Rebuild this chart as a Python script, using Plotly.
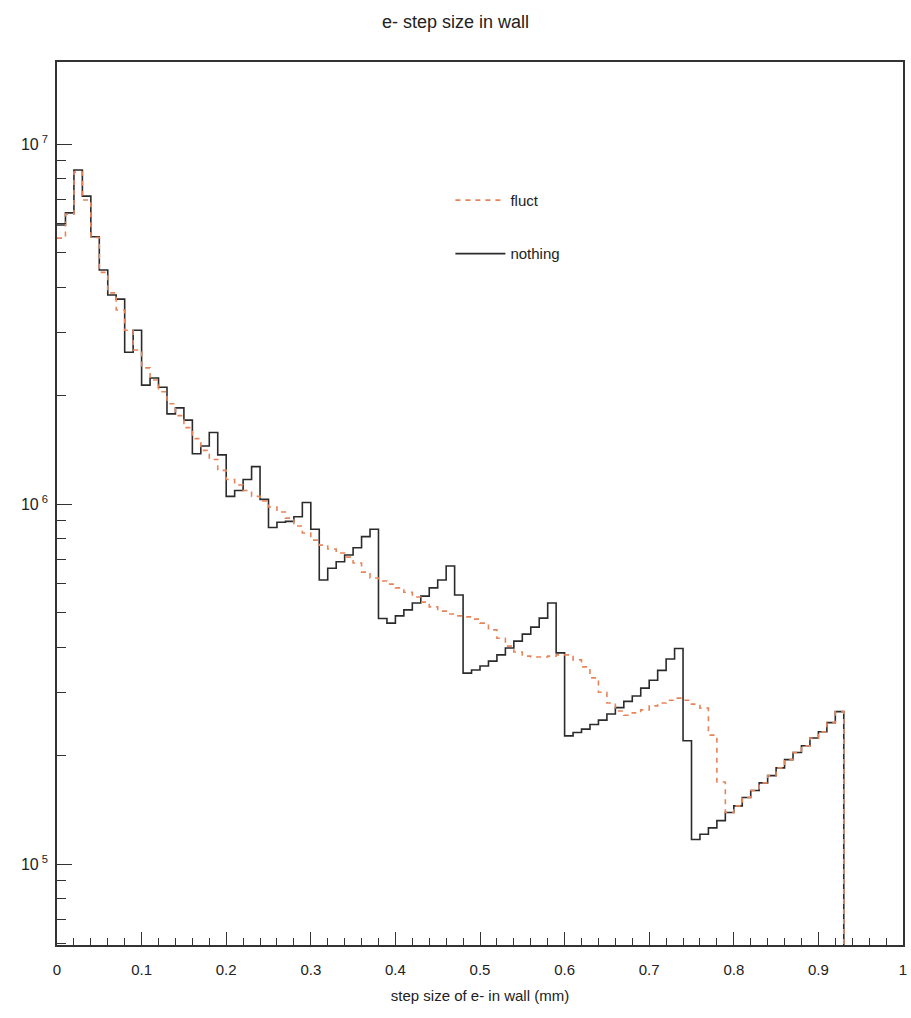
import numpy as np
import plotly.graph_objects as go

# ---- data (bin width 0.01 mm, bins 0.00 .. 0.93; beyond 0.93 empty) ----
bin_width = 0.01
n_bins = 93

nothing = [
    5.96e6, 6.44e6, 8.47e6, 7.17e6, 5.53e6, 4.47e6, 3.81e6, 3.71e6, 2.64e6, 3.04e6,
    2.14e6, 2.24e6, 2.11e6, 1.78e6, 1.85e6, 1.71e6, 1.38e6, 1.45e6, 1.58e6, 1.37e6,
    1.05e6, 1.09e6, 1.17e6, 1.27e6, 1.03e6, 8.61e5, 8.90e5, 8.95e5, 9.22e5, 1.01e6,
    8.51e5, 6.15e5, 6.63e5, 6.91e5, 7.22e5, 7.56e5, 8.12e5, 8.51e5, 4.81e5, 4.67e5,
    4.89e5, 5.08e5, 5.31e5, 5.55e5, 5.85e5, 6.15e5, 6.73e5, 5.59e5, 3.39e5, 3.46e5,
    3.55e5, 3.66e5, 3.81e5, 3.98e5, 4.16e5, 4.35e5, 4.55e5, 4.82e5, 5.31e5, 3.86e5,
    2.27e5, 2.32e5, 2.37e5, 2.44e5, 2.51e5, 2.61e5, 2.72e5, 2.83e5, 2.93e5, 3.08e5,
    3.24e5, 3.45e5, 3.71e5, 3.97e5, 2.20e5, 1.17e5, 1.21e5, 1.26e5, 1.32e5, 1.39e5,
    1.45e5, 1.53e5, 1.60e5, 1.68e5, 1.76e5, 1.85e5, 1.95e5, 2.04e5, 2.13e5, 2.24e5,
    2.33e5, 2.47e5, 2.65e5,
]

fluct = [
    5.48e6, 6.39e6, 8.36e6, 6.99e6, 5.50e6, 4.40e6, 3.86e6, 3.46e6, 3.04e6, 2.68e6,
    2.39e6, 2.21e6, 2.05e6, 1.90e6, 1.76e6, 1.63e6, 1.52e6, 1.41e6, 1.33e6, 1.24e6,
    1.17e6, 1.13e6, 1.09e6, 1.05e6, 1.02e6, 9.81e5, 9.50e5, 9.14e5, 8.69e5, 8.31e5,
    7.94e5, 7.69e5, 7.50e5, 7.31e5, 7.12e5, 6.86e5, 6.47e5, 6.23e5, 6.11e5, 5.99e5,
    5.85e5, 5.69e5, 5.52e5, 5.34e5, 5.18e5, 5.04e5, 4.95e5, 4.89e5, 4.86e5, 4.79e5,
    4.67e5, 4.47e5, 4.24e5, 4.03e5, 3.88e5, 3.78e5, 3.76e5, 3.76e5, 3.78e5, 3.81e5,
    3.81e5, 3.69e5, 3.53e5, 3.29e5, 3.00e5, 2.80e5, 2.66e5, 2.59e5, 2.63e5, 2.68e5,
    2.75e5, 2.80e5, 2.85e5, 2.89e5, 2.85e5, 2.78e5, 2.71e5, 2.28e5, 1.69e5, 1.39e5,
    1.45e5, 1.53e5, 1.60e5, 1.68e5, 1.76e5, 1.85e5, 1.95e5, 2.04e5, 2.13e5, 2.24e5,
    2.33e5, 2.47e5, 2.65e5,
]

x_ticks = [0, 0.1, 0.2, 0.3, 0.4, 0.5, 0.6, 0.7, 0.8, 0.9, 1]
x_ticktext = ["0", "0.1", "0.2", "0.3", "0.4", "0.5", "0.6", "0.7", "0.8", "0.9", "1"]
y_ticks = [1e5, 1e6, 1e7]
y_ticktext = ["10<sup> 5</sup>", "10<sup> 6</sup>", "10<sup> 7</sup>"]

# ---- step-line construction (left bin edges + closing edge dropping to empty) ----
edges = np.round(np.arange(n_bins + 1) * bin_width, 4)
EMPTY = 1.0  # empty bins lie below the visible log range


def step_xy(vals):
    xs = list(edges)
    ys = list(vals) + [EMPTY]
    return xs, ys


FONT = "Liberation Sans, Arial, Helvetica, sans-serif"

fig = go.Figure()
xs, ys = step_xy(nothing)
fig.add_trace(go.Scatter(
    x=xs, y=ys, mode="lines", line_shape="hv", name="nothing",
    line=dict(color="#2b2b2b", width=1.6), legendgroup="b", legendrank=2,
))
xs, ys = step_xy(fluct)
fig.add_trace(go.Scatter(
    x=xs, y=ys, mode="lines", line_shape="hv", name="fluct",
    line=dict(color="#e8845a", width=1.6, dash="5px,5px"), legendgroup="a", legendrank=1,
))

fig.update_layout(
    width=911, height=1018,
    margin=dict(l=57, r=4, t=62, b=73),
    paper_bgcolor="white", plot_bgcolor="white",
    font=dict(family=FONT, color="#222", size=14),
    title=dict(text="e- step size in wall", x=0.5, xanchor="center",
               y=1 - 22 / 1018, yanchor="middle",
               font=dict(family=FONT, size=18, color="#222")),
    showlegend=True,
    legend=dict(x=0.465, y=0.862, xanchor="left", yanchor="top",
                bgcolor="rgba(0,0,0,0)", font=dict(family=FONT, size=15, color="#222"),
                tracegroupgap=31, itemwidth=50, traceorder="grouped"),
)

fig.update_xaxes(
    range=[0, 1], tickvals=x_ticks, ticktext=x_ticktext,
    ticks="inside", ticklen=13, tickwidth=1.2, tickcolor="#333",
    showline=True, linecolor="#333", linewidth=1.5, mirror=True,
    showgrid=False, zeroline=False,
    minor=dict(dtick=0.02, ticks="inside", ticklen=7, tickwidth=1, tickcolor="#333", showgrid=False),
    tickfont=dict(family=FONT, size=15, color="#222"),
    ticklabelstandoff=10,
    title=dict(text="step size of e- in wall (mm)", font=dict(family=FONT, size=15, color="#222"), standoff=14),
)
fig.update_yaxes(
    type="log", range=[4.775, 7.228],
    tickvals=y_ticks, ticktext=y_ticktext,
    ticks="inside", ticklen=15, tickwidth=1.2, tickcolor="#333",
    showline=True, linecolor="#333", linewidth=1.5, mirror=True,
    showgrid=False, zeroline=False,
    minor=dict(dtick="D1", ticks="inside", ticklen=9, tickwidth=1, tickcolor="#333", showgrid=False),
    tickfont=dict(family=FONT, size=16, color="#222"),
    ticklabelstandoff=4,
)

fig.write_html(
    "out.html",
    config={"displayModeBar": False},
    post_script="document.body.style.margin='0';document.body.style.overflow='hidden';",
)
